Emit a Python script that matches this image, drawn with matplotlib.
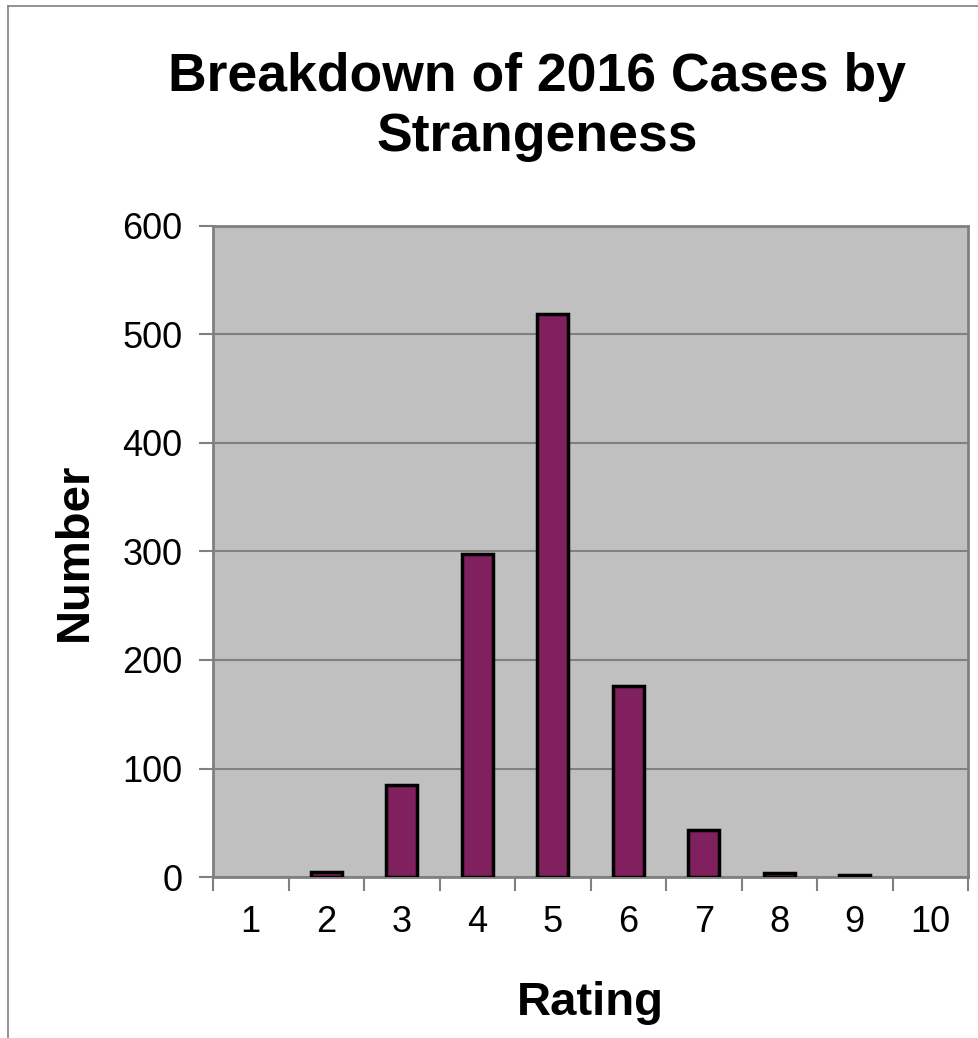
import numpy as np
import matplotlib.pyplot as plt
from matplotlib.lines import Line2D

plt.rcParams['font.family'] = ['Liberation Sans', 'DejaVu Sans']

# data
ratings = [1, 2, 3, 4, 5, 6, 7, 8, 9, 10]
counts = [0, 5, 85, 298, 519, 176, 43, 4, 2, 0]
y_ticks = [0, 100, 200, 300, 400, 500, 600]

fig = plt.figure(figsize=(9.79, 10.38), dpi=100)
ax = fig.add_axes([0.2176, 0.1551, 0.7712, 0.6272])
ax.set_facecolor('#C0C0C0')

# empty categories get no bar at all
r = np.array(ratings)
c = np.array(counts)
nz = c > 0
ax.bar(r[nz], c[nz], width=0.41, color='#80205F', edgecolor='black', linewidth=2.5, zorder=3)

ax.set_xlim(0.5, 10.5)
ax.set_ylim(0, 600)
ax.set_yticks(y_ticks)
ax.yaxis.grid(True, color='#808080', linewidth=1.5, zorder=0)

# category labels at centers, tick marks between categories
ax.set_xticks(ratings)
ax.set_xticklabels([str(x) for x in ratings])
ax.set_xticks(np.arange(0.5, 11, 1), minor=True)
ax.tick_params(axis='x', which='major', length=0, pad=20, labelsize=26)
ax.tick_params(axis='x', which='minor', length=10, width=1.5, color='#808080')
ax.tick_params(axis='y', length=10, width=1.5, color='#808080', pad=12, labelsize=26)

for s in ax.spines.values():
    s.set_color('#808080')
    s.set_linewidth(2)

ax.set_xlabel('Rating', fontsize=34, fontweight='bold', labelpad=30)
ax.set_ylabel('Number', fontsize=34, fontweight='bold', labelpad=18)

fig.text(537 / 979, 1 - 107 / 1038, 'Breakdown of 2016 Cases by\nStrangeness',
         ha='center', va='center', fontsize=38.5, fontweight='bold', linespacing=1.25)

# chart area border (left and top edges visible)
fig.add_artist(Line2D([8 / 979, 8 / 979], [0, 1 - 6 / 1038], color='#808080', linewidth=1.2))
fig.add_artist(Line2D([8 / 979, 1], [1 - 6 / 1038, 1 - 6 / 1038], color='#808080', linewidth=1.2))

fig.savefig('out.png', dpi=100)
